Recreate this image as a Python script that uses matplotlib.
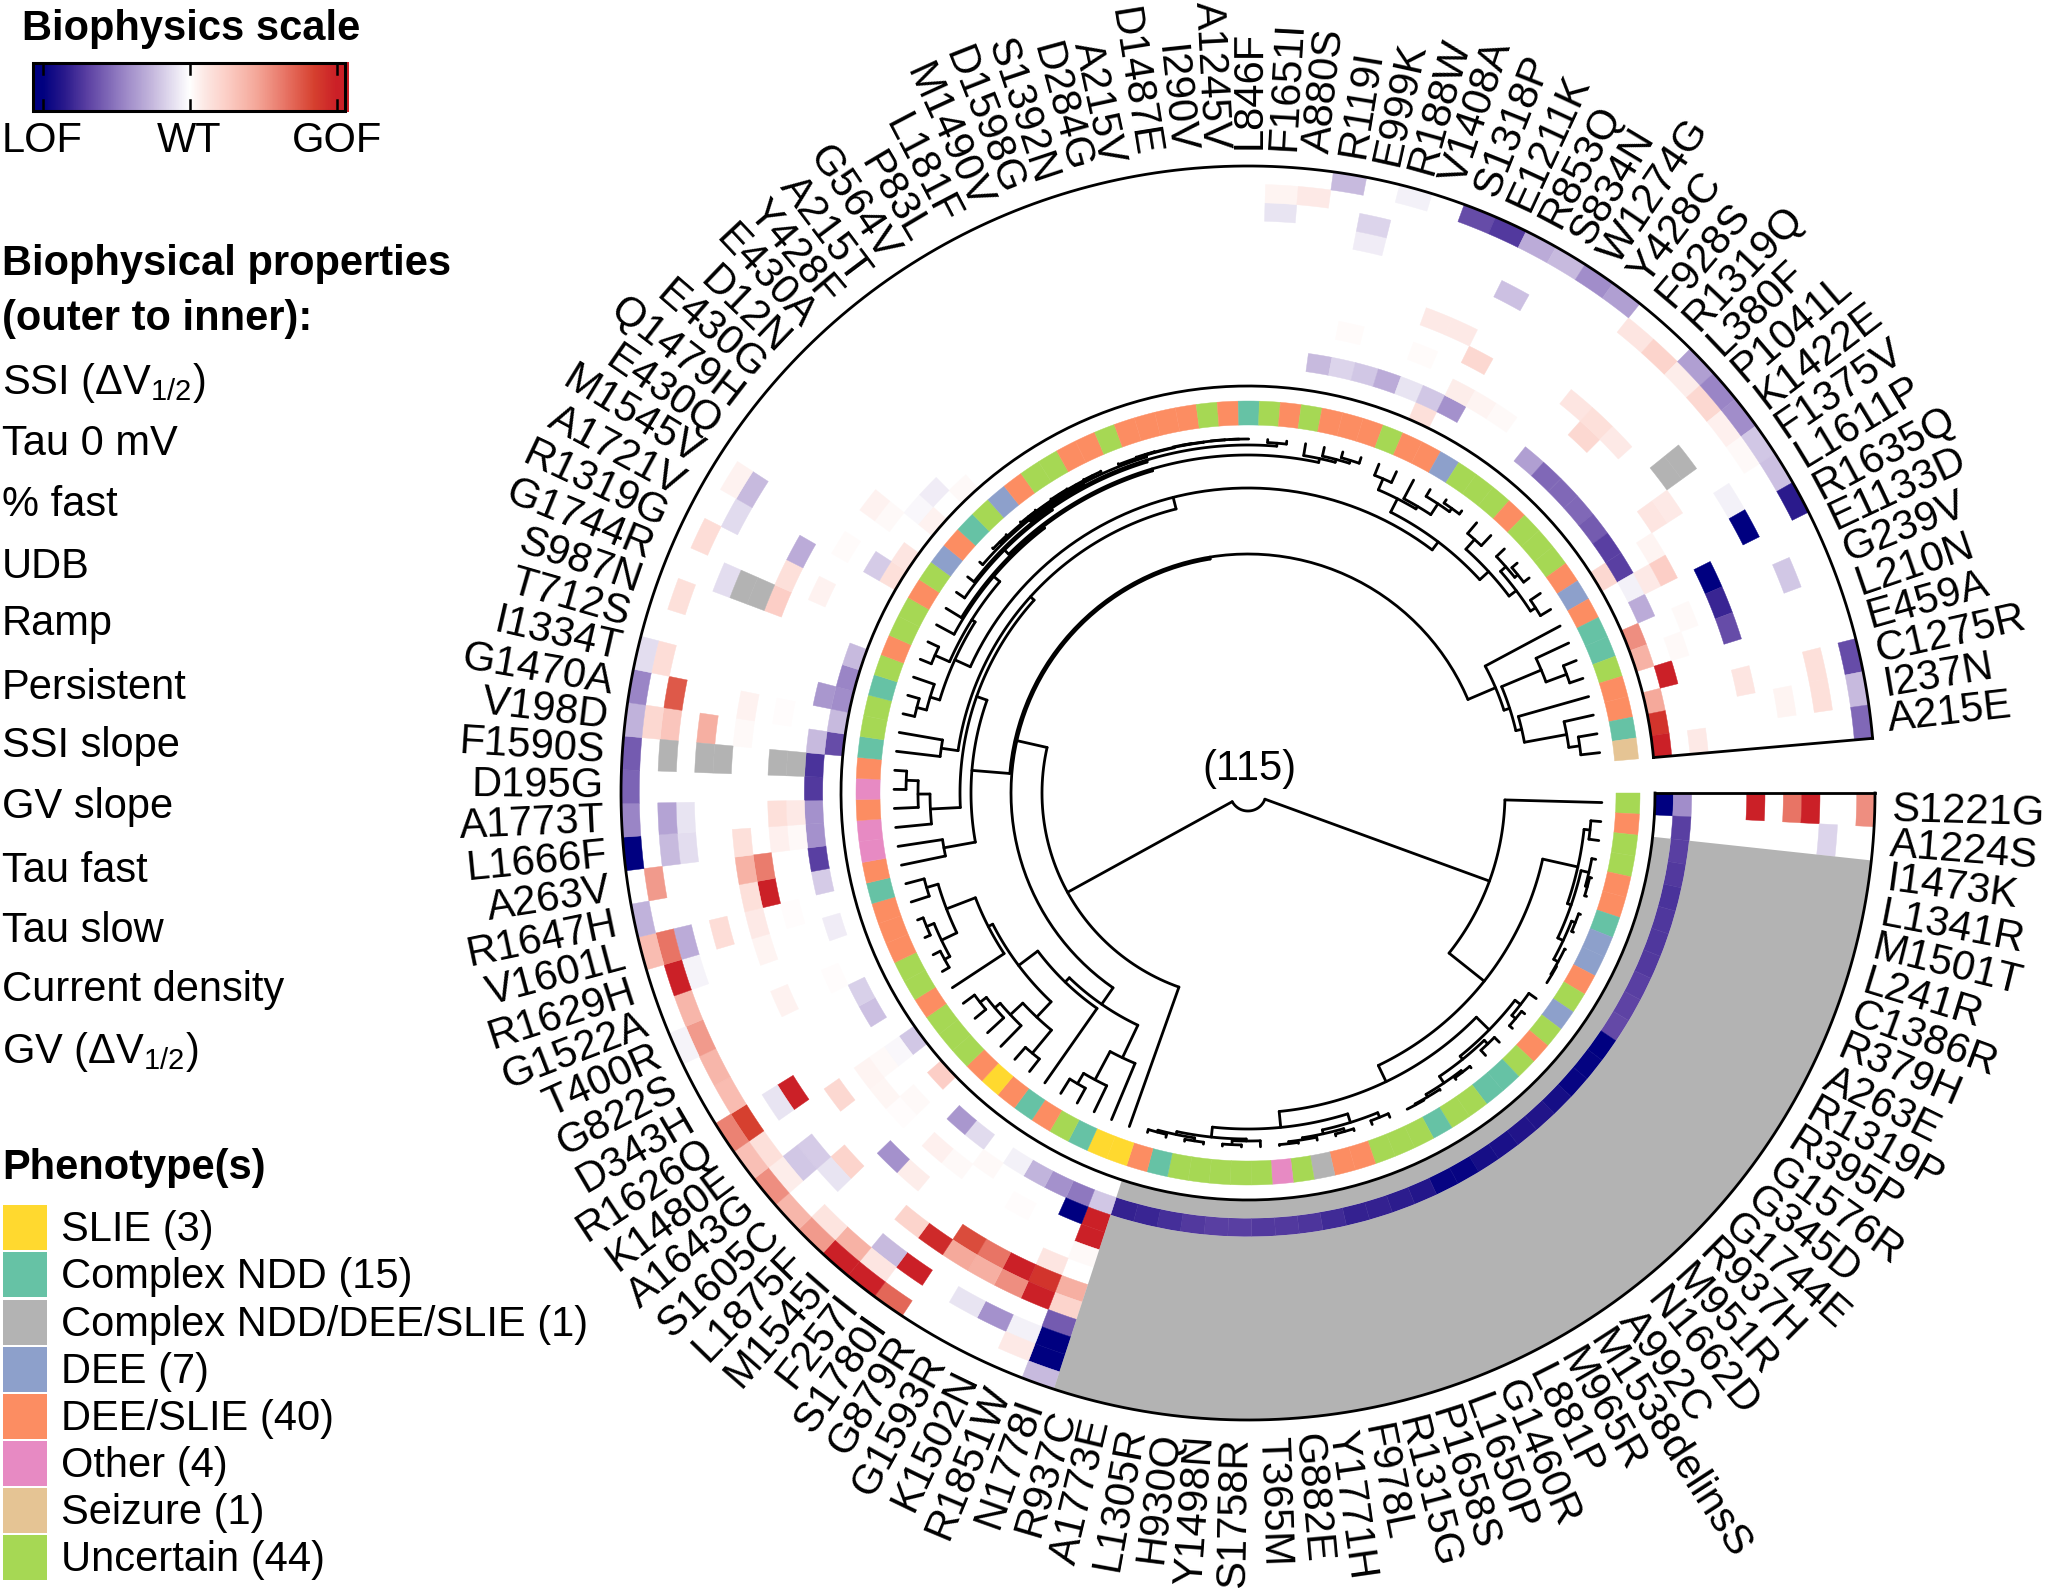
import numpy as np
import matplotlib
matplotlib.use('Agg')
import matplotlib.pyplot as plt
from matplotlib.colors import LinearSegmentedColormap
from matplotlib.patches import Rectangle

plt.rcParams['font.family'] = ['Liberation Sans', 'DejaVu Sans']
plt.rcParams['mathtext.fontset'] = 'custom'
plt.rcParams['mathtext.rm'] = 'Liberation Sans'
plt.rcParams['mathtext.default'] = 'regular'

# tip labels, clockwise from the gap
variants = ['S1221G', 'A1224S', 'I1473K', 'L1341R', 'M1501T', 'L241R', 'C1386R', 'R379H', 'A263E', 'R1319P',
            'R395P', 'G1576R', 'G345D', 'G1744E', 'R937H', 'M951R', 'N1662D', 'A992C', 'M1538delinsS', 'M965R',
            'L881P', 'G1460R', 'L1650P', 'P1658S', 'R1315G', 'F978L', 'Y1771H', 'G882E', 'T365M', 'S1758R',
            'Y1498N', 'H930Q', 'L1305R', 'A1773E', 'R937C', 'N1778I', 'R1851W', 'K1502N', 'G1593R', 'G879R',
            'S1780I', 'F257I', 'M1545I', 'L1875F', 'S1605C', 'A1643G', 'K1480E', 'R1626Q', 'D343H', 'G822S',
            'T400R', 'G1522A', 'R1629H', 'V1601L', 'R1647H', 'A263V', 'L1666F', 'A1773T', 'D195G', 'F1590S',
            'V198D', 'G1470A', 'I1334T', 'T712S', 'S987N', 'G1744R', 'R1319G', 'A1721V', 'M1545V', 'E430Q',
            'Q1479H', 'E430G', 'D12N', 'E430A', 'Y428F', 'A215T', 'G564V', 'P83L', 'L181F', 'M1490V',
            'D1598G', 'S1392N', 'D284G', 'A215V', 'D1487E', 'I290V', 'A1245V', 'L846F', 'F1651I', 'A880S',
            'R119I', 'E999K', 'R188W', 'V1408A', 'S1318P', 'E1211K', 'R853Q', 'S834N', 'W1274G', 'Y428C',
            'F928S', 'R1319Q', 'L380F', 'P1041L', 'K1422E', 'F1375V', 'L1611P', 'R1635Q', 'E1133D', 'G239V',
            'L210N', 'E459A', 'C1275R', 'I237N', 'A215E']

# phenotype of each tip
phenotype_codes = ('UDUUDDCEED' 'UEUDUCCUUC' 'UUUDDGUOUU' 'UUUCDSSCUD' 'CDSDUUUDUU' 'DDDCDOODOD'
                   'CUUCUDUUDU' 'EDCUEDUUDD' 'UDDDDUDCUD' 'UDDDUDDEUU' 'UDUUUDEDCC' 'UDDCT')
phenotype_names = {'S': ('SLIE (3)', '#FFD92F'), 'C': ('Complex NDD (15)', '#66C2A5'),
                   'G': ('Complex NDD/DEE/SLIE (1)', '#B3B3B3'), 'E': ('DEE (7)', '#8DA0CB'),
                   'D': ('DEE/SLIE (40)', '#FC8D62'), 'O': ('Other (4)', '#E78AC3'),
                   'T': ('Seizure (1)', '#E5C494'), 'U': ('Uncertain (44)', '#A6D854')}

# heatmap values per track, {tip: score}, -1 LOF .. 1 GOF, the rest is white
ssi_v12 = {0: .55, 35: -.25, 40: .7, 41: 1, 42: 1, 43: .5, 44: .38, 45: .55, 46: .33, 47: .6, 50: -.04, 53: .35,
           54: -.28, 56: -1, 57: -.45, 58: -.57, 59: -.6, 60: -.28, 61: -.45, 62: -.12, 90: -.25, 92: -.05,
           94: -.65, 95: -.72, 96: -.3, 97: -.25, 98: -.42, 99: -.35, 102: -.35, 103: -.45, 104: -.42,
           105: -.2, 106: -.22, 107: -.85, 112: -.65, 113: -.25, 114: -.55}
tau_0mv = {35: -1, 36: .1, 41: .12, 42: .4, 43: .13, 45: .08, 46: .15, 47: .85, 48: .35, 49: .38, 50: .5, 51: .38,
           52: 1, 53: .65, 55: .5, 60: .2, 62: .17, 64: .15, 66: .17, 68: .06, 88: .05, 89: .1, 100: .12,
           101: .22, 102: .08, 103: .2, 104: .07, 105: .03}
pct_fast = {1: -.15, 35: -1, 36: -.05, 37: -.4, 38: -.1, 40: 1, 41: -.25, 45: -.2, 52: -.04, 53: -.3, 56: -.25,
            57: -.33, 60: .3, 61: .75, 67: -.13, 68: -.25, 88: -.1, 91: -.15, 109: -.2, 112: .15, 113: .15}
udb = {0: 1, 35: -.6, 44: -.1, 45: -.18, 47: -.1, 56: -.12, 57: -.1, 65: -.12, 91: -.07, 96: -.22, 106: -.05,
       107: -1}
ramp = {0: .65, 35: .22, 36: 1, 37: .55, 38: .42, 39: .45, 40: .95, 41: .22, 44: .22, 47: 1, 53: .17, 60: .42,
        113: .05}
persistent = {35: .42, 36: .9, 37: 1, 38: .65, 39: .8}
ssi_slope = {0: 1, 36: .12, 42: .08, 43: -.4, 46: .2, 50: .06, 52: .05, 53: .1, 54: .15, 55: .4, 56: .15, 60: .03,
             61: .06, 65: .25, 66: .15, 67: -.3, 94: .1, 95: .1, 100: .12, 101: .15, 102: .1, 105: .1, 108: -1,
             109: -.8, 110: -.65, 112: .12}
gv_slope = {35: .03, 54: 1, 55: .62, 96: .2, 101: .2, 105: .12}
tau_fast = {35: 1, 38: .01, 41: .03, 42: .07, 44: .01, 45: .04, 46: .05, 53: .01, 56: .07, 57: .15, 61: .01,
            66: .06, 68: .02, 70: .06, 91: .02, 94: .02, 106: .05, 107: .25, 109: .03}
tau_slow = {35: 1, 36: -1, 40: .03, 44: .03, 46: .03, 50: .01, 56: .03, 57: .1, 70: .03, 96: .08, 97: .05, 98: .03,
            107: .1, 110: .03, 114: .1}
current_density = {0: -.42, 1: -.7, 2: -.7, 3: -.72, 4: -.75, 5: -.73, 6: -.73, 7: -.72, 8: -.7, 9: -.68, 10: -.66,
                   11: -1, 12: -.98, 13: -.97, 14: -.92, 15: -.88, 16: -.88, 17: -.9, 18: -.92, 19: -.97, 20: -.97,
                   21: -.87, 22: -.84, 23: -.82, 24: -.82, 25: -.78, 26: -.74, 27: -.72, 28: -.72, 29: -.7, 30: -.7,
                   31: -.72, 32: -.76, 33: -.8, 34: -.82, 35: -.2, 36: -.5, 37: -.4, 38: -.27, 39: -.05, 41: -.13,
                   42: -.38, 46: -.03, 48: -.22, 49: -.17, 52: -.07, 54: -.18, 55: -.7, 56: -.4, 57: -.4, 58: -.72,
                   59: -.75, 60: -.25, 62: -.38, 68: -.18, 71: -.03, 72: -.07, 90: -.25, 91: -.15, 92: -.2, 93: -.3,
                   94: -.1, 95: -.2, 96: -.4, 100: -.35, 101: -.55, 102: -.55, 103: -.55, 104: -.6, 105: -.7,
                   106: -.7, 107: -.05, 108: -.3, 111: 1}
gv_v12 = {0: -1, 44: .25, 46: -.2, 60: -.65, 61: -.25, 62: -.42, 63: -.45, 64: -.25, 68: .15, 69: .12, 71: .06,
          73: .03, 95: .15, 106: .2, 109: .55, 110: .4, 112: .45, 113: .9, 114: 1}

# inner to outer
tracks = [gv_v12, current_density, tau_slow, tau_fast, gv_slope, ssi_slope, persistent, ramp, udb, pct_fast, tau_0mv, ssi_v12]

# cells with no measurement: one block of tips over ranges of tracks, plus single cells
block_first_tip, block_last_tip = 2, 34
block_tracks = [(0, 0), (2, 11)]
missing_cells = {2: [59], 3: [59], 6: [59, 65, 104], 7: [59, 65, 104], 9: [59]}

# dendrogram as (node radius, child, child...), int = tip
row_a = (338, (344, 1, 2), (342, (350, 3, (352, 4, 5)), (348, (352, 6, 7), (353, 8, (354, 9, 10)))))
row_d = (338, (345, 11, (350, 12, 13)), (342, (347, 14, 15), (350, (352, 16, 17), (353, 18, (354, 19, 20)))))
row_f = (345, (350, 21, 22), (349, (352, 23, 24), (351, 25, (353, 26, 27))))
row_g = (346, (348, 28, (352, 29, 30)), (349, (352, 31, 32), (351, 33, 34)))
right_clade = (257, 0, (302, row_a, (320, row_d, (336, row_f, row_g))))

clade_u = (293, 36, (325, 37, (337, 38, 39)))
clade_y = (308, (338, 41, 42), (325, 43, (332, 44, (340, 45, 46))))
clade_x = (287, clade_y, (292, 47, (323, (340, (346, 48, 49), (348, 50, 51)), (335, 52, 53))))
clade_t = (257, clade_u, (263, 40, clade_x))

top_line = (351, (352, (353, 72, 73), (352.5, (353, 74, 75), (353, (353.5, 76, 77), (353.5, 78, 79)))),
            (353, 80, (353.5, (353.8, 81, 82), (353.8, (354, 83, 84), (354, 85, (354, 86, 87))))))
arc_348 = (348, (350, 71, top_line), (351, 88, 89))
arc_338 = (338, (344, 69, (346, 70, arc_348)), (342, 90, (345, 91, (348, 92, 93))))
clade_c2 = (326, (342, 65, 66), (334, 67, (336, 68, arc_338)))
clade_lo = (322, (332, (342, 62, 63), 64), clade_c2)
clade_hi = (315, (330, (342, 94, 95), (333, 96, (346, 97, (350, 98, 99)))),
            (327, (340, 100, 101), (336, (343, 102, (347, 103, 104)), (342, 105, 106))))
clade_b = (277, (309, 54, 55), (288, (318, 56, (330, 57, (342, 58, 59))), (293, (310, 60, 61), (305, clade_lo, clade_hi))))
clade_r = (269, 107, (275, (318, 108, (340, 109, 110)), (281, 111, (324, 112, (335, 113, 114)))))
left_clade = (206, 35, (237, clade_t, (239, clade_b, clade_r)))
tree = (18, left_clade, right_clade)

# legend text
property_names = ['SSI (ΔV$_{1/2}$)', 'Tau 0 mV', '% fast', 'UDB', 'Ramp', 'Persistent', 'SSI slope', 'GV slope',
                  'Tau fast', 'Tau slow', 'Current density', 'GV (ΔV$_{1/2}$)']
property_y = [383, 444, 505, 567, 624, 688, 746, 807, 871, 931, 990, 1052]
phenotype_order = ['S', 'C', 'G', 'E', 'D', 'O', 'T', 'U']
phenotype_y = [1227, 1274, 1322, 1369, 1416, 1463, 1510, 1557]

anchors = [(-1, '#000080'), (-.85, '#2A1A8C'), (-.7, '#5A3FA2'), (-.45, '#9A85C6'), (-.25, '#C6B9DE'), (-.1, '#E8E3F2'),
           (0, '#FFFFFF'), (.1, '#FDE9E5'), (.25, '#FCCFC7'), (.45, '#F5A99B'), (.65, '#E87566'), (.85, '#D6402F'),
           (1, '#CB2027')]
biophys = LinearSegmentedColormap.from_list('biophys', [((v + 1) / 2, c) for v, c in anchors])

W, H = 2046, 1588
CX, CY = 1248, 793
RMAX = 700
STEP = np.deg2rad(355 / 115)
HEAT_IN, HEAT_OUT = 407, 627
RING = (HEAT_OUT - HEAT_IN) / 12
TIP_R = 354
LW = 2.0

fig = plt.figure(figsize=(W / 100, H / 100), dpi=100)
ax = fig.add_axes([(CX - RMAX) / W, (H - CY - RMAX) / H, 2 * RMAX / W, 2 * RMAX / H], projection='polar')
ax.set_theta_zero_location('E')
ax.set_theta_direction(-1)
ax.axis('off')


def theta_of(tip):
    return (tip + 0.5) * STEP


def draw_node(node):
    # returns the angle of the node
    if isinstance(node, int):
        return theta_of(node)
    r = node[0]
    angles = []
    for child in node[1:]:
        a = draw_node(child)
        angles.append(a)
        child_r = TIP_R if isinstance(child, int) else child[0]
        ax.plot([a, a], [r, child_r], color='black', lw=LW, solid_capstyle='round')
    t = np.linspace(min(angles), max(angles), 60)
    ax.plot(t, np.full_like(t, r), color='black', lw=LW, solid_capstyle='round')
    return (min(angles) + max(angles)) / 2


draw_node(tree)

# phenotype ring
for i, code in enumerate(phenotype_codes):
    col = phenotype_names[code][1]
    ax.bar(theta_of(i), 24, width=STEP, bottom=368, color=col, edgecolor=col, linewidth=0.3)


def cell(k, tip, col):
    ax.bar(theta_of(tip), RING, width=STEP, bottom=HEAT_IN + k * RING, color=col, edgecolor=col, linewidth=0.3)


# heat rings
for k, track in enumerate(tracks):
    for tip, val in track.items():
        cell(k, tip, biophys((val + 1) / 2))
for k, tips in missing_cells.items():
    for tip in tips:
        cell(k, tip, '#B3B3B3')
block_mid = (theta_of(block_first_tip) + theta_of(block_last_tip)) / 2
block_width = (block_last_tip - block_first_tip + 1) * STEP
for k0, k1 in block_tracks:
    ax.bar(block_mid, (k1 - k0 + 1) * RING, width=block_width, bottom=HEAT_IN + k0 * RING, color='#B3B3B3',
           linewidth=0)

# frame of the heatmap
end = 115 * STEP
t = np.linspace(0, end, 400)
ax.plot(t, np.full_like(t, HEAT_OUT), color='black', lw=LW)
ax.plot(t, np.full_like(t, HEAT_IN), color='black', lw=LW)
ax.plot([0, 0], [HEAT_IN, HEAT_OUT], color='black', lw=LW, solid_capstyle='projecting')
ax.plot([end, end], [HEAT_IN, HEAT_OUT], color='black', lw=LW, solid_capstyle='projecting')

# tip labels
for i, name in enumerate(variants):
    deg = np.rad2deg(theta_of(i))
    if 90 < deg < 270:
        ax.text(theta_of(i), 644, name, rotation=180 - deg, ha='right', va='center', rotation_mode='anchor',
                fontsize=30)
    else:
        ax.text(theta_of(i), 644, name, rotation=-deg, ha='left', va='center', rotation_mode='anchor', fontsize=30)

ax.set_ylim(0, RMAX)

# overlay in pixels for the legends
lg = fig.add_axes([0, 0, 1, 1], facecolor='none')
lg.set_xlim(0, W)
lg.set_ylim(H, 0)
lg.axis('off')

lg.text(1249, 769, '(115)', ha='center', va='center', fontsize=30)

lg.text(22, 29, 'Biophysics scale', fontweight='bold', fontsize=30, va='center')
grad = np.linspace(-1.06, 1.08, 400).reshape(1, -1)
lg.imshow(grad, cmap=biophys, vmin=-1, vmax=1, extent=(33, 349, 112, 62), aspect='auto', zorder=1)
lg.set_xlim(0, W)
lg.set_ylim(H, 0)
lg.add_patch(Rectangle((33, 63), 312, 48, fill=False, edgecolor='black', lw=2.2, zorder=2))
for x, lab in zip([42.5, 189.5, 337], ['LOF', 'WT', 'GOF']):
    lg.plot([x, x], [64, 74], color='black', lw=1.8, zorder=3)
    lg.plot([x, x], [100, 110], color='black', lw=1.8, zorder=3)
    lg.text(x, 141, lab, ha='center', va='center', fontsize=30)

lg.text(2, 264, 'Biophysical properties', fontweight='bold', fontsize=30, va='center')
lg.text(2, 319, '(outer to inner):', fontweight='bold', fontsize=30, va='center')
for name, y in zip(property_names, property_y):
    lg.text(2, y, name, fontsize=30, va='center')

lg.text(2, 1168, 'Phenotype(s)', fontweight='bold', fontsize=30, va='center')
for code, y in zip(phenotype_order, phenotype_y):
    lab, col = phenotype_names[code]
    lg.add_patch(Rectangle((3, y - 22.5), 44, 45.5, facecolor=col, edgecolor='none'))
    lg.text(61, y + 3, lab, fontsize=30, va='center')

fig.savefig('out.png', dpi=100)
